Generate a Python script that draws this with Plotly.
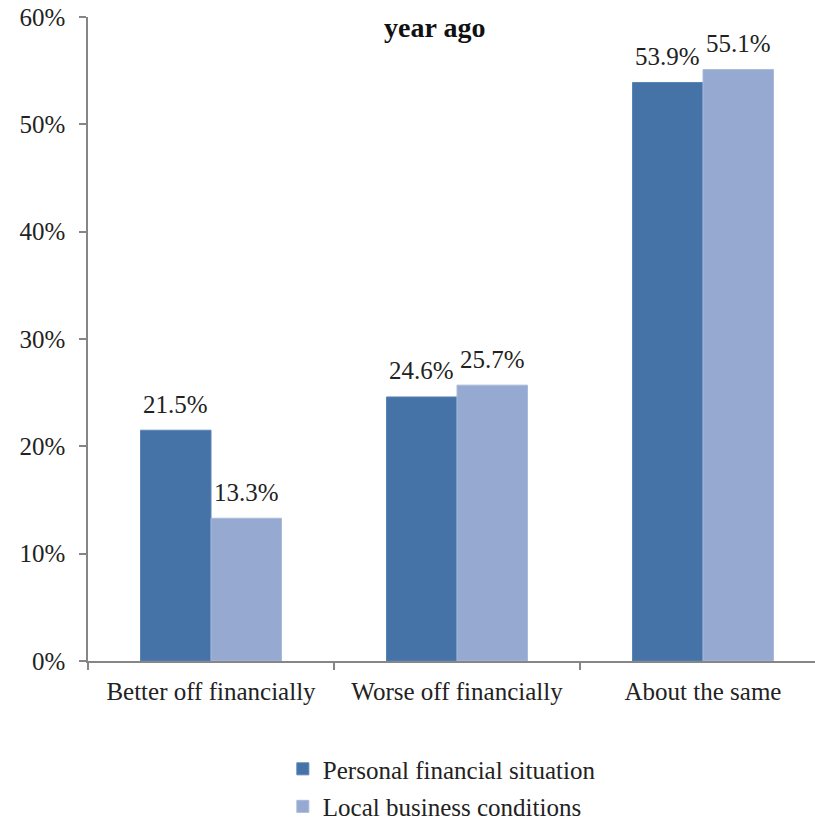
import plotly.graph_objects as go

categories = ["Better off financially", "Worse off financially", "About the same"]
personal = [21.5, 24.6, 53.9]
local = [13.3, 25.7, 55.1]
series_names = ["Personal financial situation", "Local business conditions"]
y_ticks = [0, 10, 20, 30, 40, 50, 60]
y_tick_labels = [f"{v}%" for v in y_ticks]
title_text = "year ago"

FONT = "'Liberation Serif', 'DejaVu Serif', serif"
DARK = "#4573A7"
LIGHT = "#95A9D1"
BARGAP = 0.427
FS = 25

fig = go.Figure()
fig.add_trace(go.Bar(x=categories, y=personal, name=series_names[0],
                     marker=dict(color=DARK, line=dict(color="#5A84B4", width=1)),
                     legendgroup="a"))
fig.add_trace(go.Bar(x=categories, y=local, name=series_names[1],
                     marker=dict(color=LIGHT, line=dict(color="#A8B9DB", width=1)),
                     legendgroup="b"))

half = (1 - BARGAP) / 4
for vals, off in ((personal, -half), (local, half)):
    for i, v in enumerate(vals):
        fig.add_annotation(x=i + off, y=v, xref="x", yref="y", text=f"{v:.1f}%",
                           showarrow=False, yanchor="middle", yshift=26,
                           font=dict(family=FONT, size=FS, color="#222222"))

fig.update_layout(
    width=815, height=822,
    margin=dict(l=88, r=0, t=17, b=161, autoexpand=False),
    paper_bgcolor="white", plot_bgcolor="white",
    barmode="group", bargap=BARGAP, bargroupgap=0,
    font=dict(family=FONT, size=FS, color="#222222"),
    title=dict(text=f"<b>{title_text}</b>", x=0.477, xref="paper", xanchor="center",
               y=1 - 27 / 822, yref="container", yanchor="middle",
               font=dict(family=FONT, size=28, color="#111111")),
    legend=dict(x=0.268, xanchor="left", y=-0.261, yanchor="bottom",
                orientation="v", traceorder="grouped", tracegroupgap=2,
                font=dict(family=FONT, size=FS, color="#222222"),
                bgcolor="rgba(0,0,0,0)", borderwidth=0),
    showlegend=True,
)
fig.update_xaxes(type="category", range=[-0.5, -0.5 + 727 / 246],
                 showline=True, linecolor="#868686", linewidth=1.5,
                 ticks="outside", tickson="boundaries", ticklen=7, tickcolor="#868686",
                 tickwidth=1.5, showgrid=False, ticklabelstandoff=7)
fig.update_yaxes(range=[0, 60], tickvals=y_ticks, ticktext=y_tick_labels,
                 showline=True, linecolor="#868686", linewidth=1.5,
                 ticks="outside", ticklen=7, tickcolor="#868686", tickwidth=1.5,
                 showgrid=False, zeroline=False, ticklabelstandoff=9)

fig.write_html("out.html", config={"displayModeBar": False},
               post_script="document.body.style.margin='0';document.body.style.padding='0';")
